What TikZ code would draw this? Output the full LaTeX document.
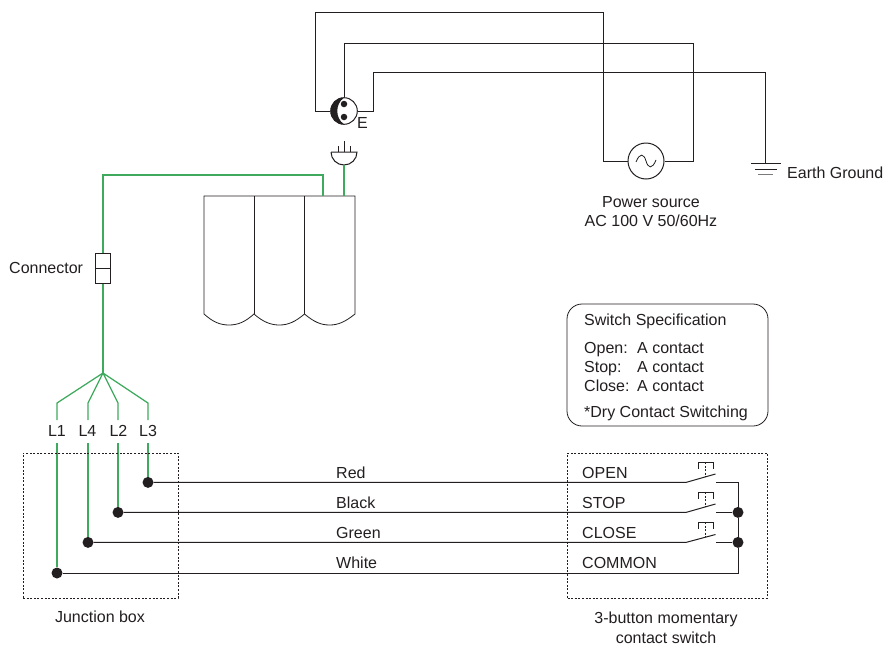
\documentclass[tikz,border=0pt]{standalone}
\usepackage{fontspec}
\setmainfont{Liberation Sans}
\definecolor{ink}{HTML}{231F20}
\definecolor{wire}{HTML}{3FAA5E}
\tikzset{
  wireline/.style={draw=ink,line width=1pt},
  greenline/.style={draw=wire,line width=1.25pt},
  thinline/.style={draw=ink,line width=0.8pt},
  dotbox/.style={draw=ink,line width=0.6pt,dash pattern=on 2pt off 1.6pt},
  junction/.style={circle,fill=ink,draw=none,minimum size=11pt,inner sep=0pt},
  lab/.style={text=ink,font=\fontsize{16}{18}\selectfont,inner sep=0pt,anchor=base},
  lableft/.style={lab,anchor=base west},
}
\begin{document}
\begin{tikzpicture}[x=1pt,y=-1pt]
\useasboundingbox[fill=white] (0,0) rectangle (888,648);

% socket
\node[circle,draw=ink,line width=1pt,minimum size=26.6pt,inner sep=0pt] (socket) at (344,111) {};
\fill[ink] (344,97.7) arc[start angle=-90,end angle=-270,radius=13.3] .. controls (335,118) and (335,104) .. cycle;
\node[circle,fill=ink,minimum size=6.5pt,inner sep=0pt] at (344,104) {};
\node[circle,fill=ink,minimum size=6.5pt,inner sep=0pt] at (344,117) {};
\node[lableft] at (357,128) {E};

% power source
\node[circle,draw=ink,line width=1pt,minimum size=36pt,inner sep=0pt] (ac) at (646,161) {};
\draw[thinline] (636,162) .. controls (640,152) and (644,154) .. (646,161) .. controls (648,168) and (652,170) .. (656,160);
\coordinate (c1) at (315,111); \coordinate (c2) at (315,12); \coordinate (c3) at (603,12); \coordinate (c4) at (603,161);
\draw[wireline] (socket.west) -- (c1) -- (c2) -- (c3) -- (c4) -- (ac.west);
\coordinate (d1) at (693,161); \coordinate (d2) at (693,43); \coordinate (d3) at (344,43);
\draw[wireline] (ac.east) -- (d1) -- (d2) -- (d3) -- (socket.north);
\coordinate (e1) at (373,111); \coordinate (e2) at (373,72); \coordinate (e3) at (765,72); \coordinate (gnd) at (765,163);
\draw[wireline] (socket.east) -- (e1) -- (e2) -- (e3) -- (gnd);
\draw[wireline] (751,163) -- (781,163);
\draw[wireline] (755,169) -- (777,169);
\draw[thinline,draw=ink!60] (758,174.5) -- (773,174.5);
\node[lableft] at (787,178) {Earth Ground};
\node[lab] at (651,207) {Power source};
\node[lab] at (651,226) {AC 100 V 50/60Hz};

% plug
\coordinate (plugbot) at (344,165);
\draw[wireline] (331,152) -- (357,152) arc[start angle=0,end angle=180,radius=13];
\draw[thinline] (338,146) -- (338,152) (344,141) -- (344,152) (350,146) -- (350,152);

% blind head
\coordinate (b0) at (204,196); \coordinate (b1) at (254,196); \coordinate (b2) at (304.5,196); \coordinate (b3) at (355,196);
\coordinate (pl) at (344,196); \coordinate (gl) at (323,196);
\draw[thinline] (b0) -- (b3) -- (355,314)
  .. controls (345,322) and (338,325) .. (329.7,325) .. controls (321,325) and (314,322) .. (304.5,314)
  .. controls (295,322) and (288,325) .. (279.2,325) .. controls (271,325) and (263,322) .. (254,314)
  .. controls (245,322) and (238,325) .. (229,325) .. controls (220,325) and (213,322) .. (204,314) -- cycle;
\draw[thinline] (b1) -- (254,314) (b2) -- (304.5,314);
\draw[greenline] (plugbot) -- (pl);
\coordinate (g1) at (323,175); \coordinate (g2) at (103,175);

% connector
\node[draw=ink,line width=1pt,minimum width=15.5pt,minimum height=30pt,inner sep=0pt] (conn) at (103,268) {};
\draw[wireline] (conn.west) -- (conn.east);
\draw[greenline] (gl) -- (g1) -- (g2) -- (conn.north);
\coordinate (fan) at (103,373);
\draw[greenline] (conn.south) -- (fan);
\node[lableft] at (9,273) {Connector};

% labels and leads
\node[lab] (L1) at (57,436.5) {L1};
\node[lab] (L4) at (87.5,436.5) {L4};
\node[lab] (L2) at (118.5,436.5) {L2};
\node[lab] (L3) at (148,436.5) {L3};
\coordinate (f1) at (57,403); \coordinate (f4) at (88,403); \coordinate (f2) at (118,403); \coordinate (f3) at (148,403);
\coordinate (t1) at (57,420); \coordinate (t4) at (88,420); \coordinate (t2) at (118,420); \coordinate (t3) at (148,420);
\draw[greenline] (fan) -- (f1) -- (t1) (fan) -- (f4) -- (t4) (fan) -- (f2) -- (t2) (fan) -- (f3) -- (t3);

% junction terminals
\node[junction] (j3) at (148,482.4) {};
\node[junction] (j2) at (118,512.4) {};
\node[junction] (j4) at (88,542.4) {};
\node[junction] (j1) at (57,573) {};
\coordinate (s1) at (57,443); \coordinate (s4) at (88,443); \coordinate (s2) at (118,443); \coordinate (s3) at (148,443);
\draw[greenline] (s1) -- (j1) (s4) -- (j4) (s2) -- (j2) (s3) -- (j3);

% dotted boxes
\node[dotbox,minimum width=155pt,minimum height=145pt,inner sep=0pt] (jbox) at (100.5,525.5) {};
\node[dotbox,minimum width=200pt,minimum height=145pt,inner sep=0pt] (sbox) at (667.5,525.5) {};
\node[lab] at (100,622) {Junction box};
\node[lab] at (666,623.5) {3-button momentary};
\node[lab] at (666,643) {contact switch};

% switches
\node[junction] (m2) at (738,512.4) {};
\node[junction] (m3) at (738,542.4) {};
\coordinate (a1) at (686,482.4); \coordinate (b1t) at (715.5,474); \coordinate (k1) at (716,482.4); \coordinate (r1) at (738,482.4);
\coordinate (a2) at (686,512.4); \coordinate (b2t) at (715.5,504); \coordinate (k2) at (716,512.4);
\coordinate (a3) at (686,542.4); \coordinate (b3t) at (715.5,534.5); \coordinate (k3) at (716,542.4);
\coordinate (r4) at (738,573);
\draw[wireline] (j3) -- (a1) -- (b1t);
\draw[wireline] (j2) -- (a2) -- (b2t);
\draw[wireline] (j4) -- (a3) -- (b3t);
\draw[wireline] (k1) -- (r1) -- (m2) -- (m3) -- (r4) -- (j1);
\draw[wireline] (k2) -- (m2);
\draw[wireline] (k3) -- (m3);
\foreach \yy in {462,492,522}{
  \draw[thinline] (698,\yy+6.5) -- (698,\yy) -- (713,\yy) -- (713,\yy+6.5);
  \draw[thinline,dash pattern=on 2pt off 1.5pt] (705.7,\yy) -- (705.7,\yy+15);
}
\node[lableft] at (336,478.5) {Red};
\node[lableft] at (336,508.5) {Black};
\node[lableft] at (336,538.5) {Green};
\node[lableft] at (336,568.5) {White};
\node[lableft] at (582,478.5) {OPEN};
\node[lableft] at (582,508.5) {STOP};
\node[lableft] at (582,538.5) {CLOSE};
\node[lableft] at (582,568.5) {COMMON};

% specification
\node[draw=ink,line width=0.8pt,rounded corners=15pt,minimum width=201pt,minimum height=122pt,inner sep=0pt] (spec) at (667.5,365) {};
\node[lableft] at (584,325.7) {Switch Specification};
\node[lableft] at (584,353) {Open:};
\node[lableft] at (584,372) {Stop:};
\node[lableft] at (584,391) {Close:};
\node[lableft] at (637,353) {A contact};
\node[lableft] at (637,372) {A contact};
\node[lableft] at (637,391) {A contact};
\node[lableft] at (584,417) {*Dry Contact Switching};
\end{tikzpicture}
\end{document}
